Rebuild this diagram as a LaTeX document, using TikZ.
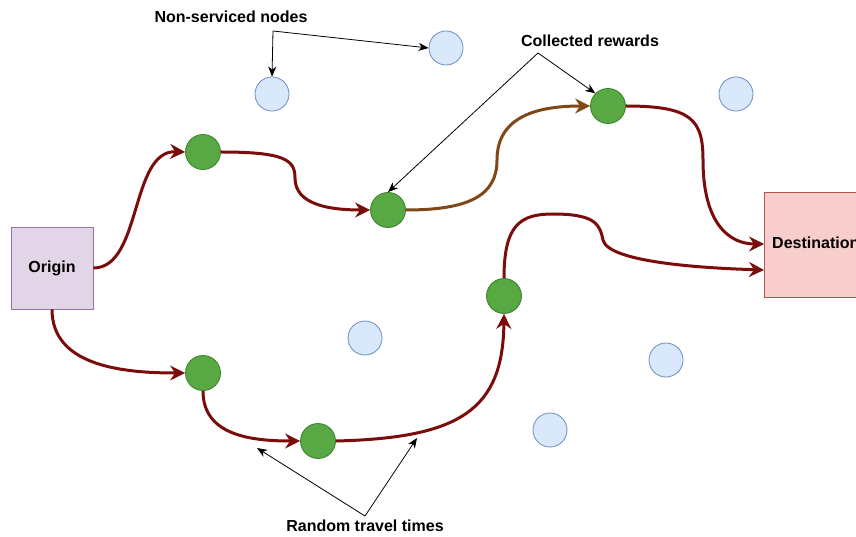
\documentclass[tikz,border=0pt]{standalone}
\usepackage{fontspec}
\setmainfont{Liberation Sans}
\usetikzlibrary{arrows.meta}
\definecolor{maroon}{RGB}{122,12,12}
\definecolor{brownpath}{RGB}{128,72,22}
\definecolor{gfill}{RGB}{88,168,68}
\definecolor{gdraw}{RGB}{58,128,42}
\definecolor{bfill}{RGB}{218,232,252}
\definecolor{bdraw}{RGB}{108,142,191}
\definecolor{ofill}{RGB}{225,213,231}
\definecolor{odraw}{RGB}{150,115,166}
\definecolor{dfill}{RGB}{248,206,204}
\definecolor{ddraw}{RGB}{184,84,80}
\begin{document}
\begin{tikzpicture}[x=1pt,y=-1pt,
  reward/.style={circle,draw=gdraw,fill=gfill,line width=0.8pt,minimum size=35pt,inner sep=0pt},
  idle/.style={circle,draw=bdraw,fill=bfill,line width=0.8pt,minimum size=34pt,inner sep=0pt},
  route/.style={draw=maroon,line width=3pt,-{Stealth[length=15pt,width=15pt,inset=5pt]}},
  broute/.style={route,draw=brownpath},
  note/.style={draw=black,line width=0.8pt,-{Stealth[length=10pt,width=8pt,inset=3pt]}},
  label/.style={font=\bfseries\fontsize{16}{19}\selectfont,inner sep=0pt}
]
\clip (0,0) rectangle (856,537);
\fill[white] (0,0) rectangle (856,537);

\node[draw=odraw,fill=ofill,line width=0.8pt,minimum width=82pt,minimum height=82pt,inner sep=0pt,label] (o) at (52,268) {Origin};
\node[draw=ddraw,fill=dfill,line width=0.8pt,minimum width=120pt,minimum height=105pt,inner sep=0pt] (d) at (824,244.5) {};
\node[label,anchor=west] (dt) at (772,243) {Destination};

\node[reward] (g1) at (203,152) {};
\node[reward] (g2) at (388,210) {};
\node[reward] (g3) at (608,106) {};
\node[reward] (g4) at (504,296) {};
\node[reward] (g5) at (203,373) {};
\node[reward] (g6) at (318,441) {};

\node[idle] (b1) at (272,94) {};
\node[idle] (b2) at (446,48) {};
\node[idle] (b3) at (736,94) {};
\node[idle] (b4) at (365,338) {};
\node[idle] (b5) at (666,360) {};
\node[idle] (b6) at (550,430) {};

\coordinate (d1) at (764,244);
\coordinate (d2) at (764,270);

\draw[route] (o.east) .. controls (142,268) and (130,150) .. (g1.west);
\draw[route] (g1.east) .. controls (285,152) and (295,160) .. (295,178) .. controls (295,205) and (330,210) .. (g2.west);
\draw[broute] (g2.east) .. controls (470,210) and (497,195) .. (497,160) .. controls (497,115) and (540,106) .. (g3.west);
\draw[route] (g3.east) .. controls (692,106) and (703,120) .. (703,160) .. controls (703,222) and (728,244) .. (d1);
\draw[route] (o.south) .. controls (52,365) and (120,373) .. (g5.west);
\draw[route] (g5.south) .. controls (203,435) and (250,441) .. (g6.west);
\draw[route] (g6.east) .. controls (460,438) and (503,410) .. (g4.south);
\draw[route] (g4.north) .. controls (504,225) and (520,214) .. (553,214) .. controls (596,214) and (600,225) .. (603,240) .. controls (608,262) and (700,268) .. (d2);

\node[label] (ns) at (231,17) {Non-serviced nodes};
\coordinate (nsb) at (273,31);
\draw[note] (nsb) -- (b1.north);
\draw[note] (nsb) -- (b2.west);

\node[label] (cr) at (590,41) {Collected rewards};
\coordinate (crb) at (538,53);
\draw[note] (crb) -- (g3.north west);
\draw[note] (crb) -- (g2.north);

\node[label] (rt) at (365,526) {Random travel times};
\coordinate (rtb) at (365,516);
\draw[note] (rtb) -- (257,448);
\draw[note] (rtb) -- (417,438);
\end{tikzpicture}
\end{document}
